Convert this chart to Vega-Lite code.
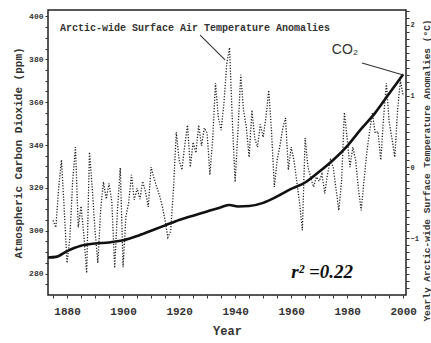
{
  "$schema": "https://vega.github.io/schema/vega-lite/v6.json",
  "width": 358,
  "height": 285,
  "autosize": "none",
  "padding": {"left": 48, "top": 10, "right": 25, "bottom": 48},
  "background": "white",
  "config": {
    "view": {"stroke": "#222", "strokeWidth": 1.5},
    "axis": {
      "domain": false,
      "grid": false,
      "tickColor": "#333",
      "labelColor": "#333",
      "titleColor": "#333",
      "labelFont": "Liberation Mono",
      "titleFont": "Liberation Mono",
      "labelFontWeight": "bold",
      "titleFontWeight": "bold",
      "labelOverlap": false,
      "labelBound": false,
      "labelFlush": false,
      "tickCount": 200
    }
  },
  "datasets": {
    "co2": [
      {"year": 1873.2, "ppm": 287.5}, {"year": 1876, "ppm": 287.8}, {"year": 1880, "ppm": 290.5},
      {"year": 1885, "ppm": 293}, {"year": 1890, "ppm": 294}, {"year": 1895, "ppm": 294.5},
      {"year": 1900, "ppm": 295.5}, {"year": 1905, "ppm": 297.5}, {"year": 1910, "ppm": 300},
      {"year": 1915, "ppm": 302.5}, {"year": 1920, "ppm": 305}, {"year": 1925, "ppm": 307},
      {"year": 1930, "ppm": 309}, {"year": 1935, "ppm": 311}, {"year": 1938, "ppm": 312},
      {"year": 1941, "ppm": 311.3}, {"year": 1945, "ppm": 311.5}, {"year": 1950, "ppm": 313},
      {"year": 1955, "ppm": 316}, {"year": 1960, "ppm": 319.5}, {"year": 1965, "ppm": 322.5},
      {"year": 1970, "ppm": 327.5}, {"year": 1975, "ppm": 333}, {"year": 1980, "ppm": 339.5},
      {"year": 1985, "ppm": 347.5}, {"year": 1990, "ppm": 355}, {"year": 1995, "ppm": 364},
      {"year": 2000, "ppm": 373}
    ],
    "temp": [
      {"year": 1875, "t": -0.75}, {"year": 1876, "t": -0.85}, {"year": 1877, "t": -0.3}, {"year": 1878, "t": 0.1},
      {"year": 1879, "t": -0.6}, {"year": 1880, "t": -1.35}, {"year": 1881, "t": -1.0}, {"year": 1882, "t": -0.2},
      {"year": 1883, "t": 0.28}, {"year": 1884, "t": -0.85}, {"year": 1885, "t": -0.55}, {"year": 1886, "t": -0.95},
      {"year": 1887, "t": -1.49}, {"year": 1888, "t": 0.21}, {"year": 1889, "t": -0.3}, {"year": 1890, "t": -0.9},
      {"year": 1891, "t": -1.35}, {"year": 1892, "t": -0.6}, {"year": 1893, "t": -0.21}, {"year": 1894, "t": -0.45},
      {"year": 1895, "t": -0.23}, {"year": 1896, "t": -0.5}, {"year": 1897, "t": -1.42}, {"year": 1898, "t": -0.6},
      {"year": 1899, "t": -0.01}, {"year": 1900, "t": -1.41}, {"year": 1901, "t": -0.7}, {"year": 1902, "t": -0.5},
      {"year": 1903, "t": -0.11}, {"year": 1904, "t": -0.46}, {"year": 1905, "t": -0.3}, {"year": 1906, "t": -0.45},
      {"year": 1907, "t": -0.2}, {"year": 1908, "t": -0.35}, {"year": 1909, "t": -0.56}, {"year": 1910, "t": 0.0},
      {"year": 1911, "t": -0.15}, {"year": 1912, "t": -0.28}, {"year": 1913, "t": -0.4}, {"year": 1914, "t": -0.55},
      {"year": 1915, "t": -0.75}, {"year": 1916, "t": -0.99}, {"year": 1917, "t": -0.9}, {"year": 1918, "t": -0.3},
      {"year": 1919, "t": 0.49}, {"year": 1920, "t": 0.1}, {"year": 1921, "t": -0.04}, {"year": 1922, "t": 0.3},
      {"year": 1923, "t": 0.59}, {"year": 1924, "t": 0.0}, {"year": 1925, "t": 0.35}, {"year": 1926, "t": 0.2},
      {"year": 1927, "t": 0.59}, {"year": 1928, "t": 0.3}, {"year": 1929, "t": 0.55}, {"year": 1930, "t": 0.48},
      {"year": 1931, "t": -0.11}, {"year": 1932, "t": 0.4}, {"year": 1933, "t": 1.18}, {"year": 1934, "t": 0.7},
      {"year": 1935, "t": 0.52}, {"year": 1936, "t": 0.9}, {"year": 1937, "t": 1.45}, {"year": 1938, "t": 1.68},
      {"year": 1939, "t": 0.66}, {"year": 1940, "t": -0.21}, {"year": 1941, "t": 0.5}, {"year": 1942, "t": 1.3},
      {"year": 1943, "t": 0.8}, {"year": 1944, "t": 0.56}, {"year": 1945, "t": 0.14}, {"year": 1946, "t": 0.8},
      {"year": 1947, "t": 0.4}, {"year": 1948, "t": 0.28}, {"year": 1949, "t": 0.6}, {"year": 1950, "t": 0.42},
      {"year": 1951, "t": 0.7}, {"year": 1952, "t": 1.08}, {"year": 1953, "t": 0.5}, {"year": 1954, "t": -0.28},
      {"year": 1955, "t": 0.1}, {"year": 1956, "t": 0.3}, {"year": 1957, "t": 0.55}, {"year": 1958, "t": 0.69},
      {"year": 1959, "t": -0.04}, {"year": 1960, "t": 0.28}, {"year": 1961, "t": 0.1}, {"year": 1962, "t": -0.2},
      {"year": 1963, "t": -0.5}, {"year": 1964, "t": -0.89}, {"year": 1965, "t": 0.41}, {"year": 1966, "t": 0.0},
      {"year": 1967, "t": -0.15}, {"year": 1968, "t": -0.28}, {"year": 1969, "t": -0.14}, {"year": 1970, "t": -0.2},
      {"year": 1971, "t": -0.1}, {"year": 1972, "t": -0.37}, {"year": 1973, "t": -0.1}, {"year": 1974, "t": 0.1},
      {"year": 1975, "t": 0.0}, {"year": 1976, "t": -0.3}, {"year": 1977, "t": -0.61}, {"year": 1978, "t": -0.2},
      {"year": 1979, "t": 0.77}, {"year": 1980, "t": 0.4}, {"year": 1981, "t": 0.0}, {"year": 1982, "t": 0.28},
      {"year": 1983, "t": 0.1}, {"year": 1984, "t": -0.3}, {"year": 1985, "t": -0.61}, {"year": 1986, "t": -0.2},
      {"year": 1987, "t": 0.2}, {"year": 1988, "t": 0.5}, {"year": 1989, "t": 0.76}, {"year": 1990, "t": 0.48},
      {"year": 1991, "t": 0.5}, {"year": 1992, "t": 0.1}, {"year": 1993, "t": 0.7}, {"year": 1994, "t": 1.18},
      {"year": 1995, "t": 0.63}, {"year": 1996, "t": 0.4}, {"year": 1997, "t": 0.14}, {"year": 1998, "t": 0.8},
      {"year": 1999, "t": 1.22}, {"year": 2000, "t": 1.0}
    ]
  },
  "layer": [
    {
      "layer": [
        {
          "data": {"name": "co2"},
          "mark": {"type": "line", "color": "#111", "strokeWidth": 2.6, "interpolate": "monotone"},
          "encoding": {
            "x": {
              "field": "year", "type": "quantitative", "title": "Year",
              "scale": {"domain": [1873.2, 2001], "nice": false, "zero": false},
              "axis": {
                "values": [1875, 1880, 1885, 1890, 1895, 1900, 1905, 1910, 1915, 1920, 1925, 1930, 1935, 1940, 1945, 1950, 1955, 1960, 1965, 1970, 1975, 1980, 1985, 1990, 1995, 2000],
                "labelExpr": "datum.value % 20 == 0 ? datum.label : ''",
                "format": "d", "tickCount": 200,
                "tickSize": 3, "labelFontSize": 11, "labelPadding": 7, "titleFontSize": 12, "titlePadding": 9
              }
            },
            "y": {
              "field": "ppm", "type": "quantitative", "title": "Atmospheric Carbon Dioxide (ppm)",
              "scale": {"domain": [270, 403], "nice": false, "zero": false},
              "axis": {
                "values": [275, 280, 285, 290, 295, 300, 305, 310, 315, 320, 325, 330, 335, 340, 345, 350, 355, 360, 365, 370, 375, 380, 385, 390, 395, 400],
                "labelExpr": "datum.value % 20 == 0 ? datum.label : ''",
                "format": "d", "tickCount": 200,
                "tickSize": 3, "labelFontSize": 8, "labelPadding": 2, "titleFontSize": 11, "titlePadding": 5
              }
            }
          }
        },
        {
          "data": {"values": [
            {"x1": 1927.5, "y1": 391.3, "x2": 1936.4, "y2": 379.7},
            {"x1": 1985.3, "y1": 378.3, "x2": 2000, "y2": 372.7}
          ]},
          "mark": {"type": "rule", "color": "#333", "strokeWidth": 1.1},
          "encoding": {
            "x": {"field": "x1", "type": "quantitative", "title": "Year"},
            "y": {"field": "y1", "type": "quantitative", "title": "Atmospheric Carbon Dioxide (ppm)"},
            "x2": {"field": "x2"},
            "y2": {"field": "y2"}
          }
        },
        {
          "data": {"values": [{"year": 1877.5, "ppm": 394.6, "label": "Arctic-wide Surface Air Temperature Anomalies"}]},
          "mark": {"type": "text", "align": "left", "baseline": "middle", "font": "Liberation Mono", "fontWeight": "bold", "fontSize": 10, "color": "#333"},
          "encoding": {
            "x": {"field": "year", "type": "quantitative", "title": "Year"},
            "y": {"field": "ppm", "type": "quantitative", "title": "Atmospheric Carbon Dioxide (ppm)"},
            "text": {"field": "label"}
          }
        },
        {
          "data": {"values": [{"year": 1974.5, "ppm": 384.5, "label": "CO₂"}]},
          "mark": {"type": "text", "align": "left", "baseline": "middle", "font": "Liberation Sans", "fontSize": 14, "color": "#333"},
          "encoding": {
            "x": {"field": "year", "type": "quantitative", "title": "Year"},
            "y": {"field": "ppm", "type": "quantitative", "title": "Atmospheric Carbon Dioxide (ppm)"},
            "text": {"field": "label"}
          }
        },
        {
          "data": {"values": [{"year": 1960, "ppm": 280.7, "label": "r² =0.22"}]},
          "mark": {"type": "text", "align": "left", "baseline": "middle", "font": "Liberation Serif", "fontStyle": "italic", "fontWeight": "bold", "fontSize": 19, "color": "#111"},
          "encoding": {
            "x": {"field": "year", "type": "quantitative", "title": "Year"},
            "y": {"field": "ppm", "type": "quantitative", "title": "Atmospheric Carbon Dioxide (ppm)"},
            "text": {"field": "label"}
          }
        }
      ]
    },
    {
      "data": {"name": "temp"},
      "mark": {"type": "line", "color": "#222", "strokeWidth": 1.3, "strokeDash": [1.2, 1.6]},
      "encoding": {
        "x": {"field": "year", "type": "quantitative", "title": "Year"},
        "y": {
          "field": "t", "type": "quantitative", "title": "Yearly Arctic-wide Surface Temperature Anomalies (°C)",
          "scale": {"domain": [-1.8, 2.21], "nice": false, "zero": false},
          "axis": {
            "orient": "right",
            "values": [-1.7, -1.6, -1.5, -1.4, -1.3, -1.2, -1.1, -1, -0.9, -0.8, -0.7, -0.6, -0.5, -0.4, -0.3, -0.2, -0.1, 0, 0.1, 0.2, 0.3, 0.4, 0.5, 0.6, 0.7, 0.8, 0.9, 1, 1.1, 1.2, 1.3, 1.4, 1.5, 1.6, 1.7, 1.8, 1.9, 2, 2.1, 2.2],
            "labelExpr": "(datum.value * 10) % 10 == 0 ? format(datum.value, 'd') : ''",
            "tickCount": 200,
            "tickSize": 3, "labelFontSize": 7, "labelPadding": 1,
            "titleFontSize": 9.5, "titleAngle": 270, "titleX": 20, "titleY": 160,
            "titleAlign": "center", "titleBaseline": "middle"
          }
        }
      }
    }
  ],
  "resolve": {"scale": {"y": "independent"}}
}
